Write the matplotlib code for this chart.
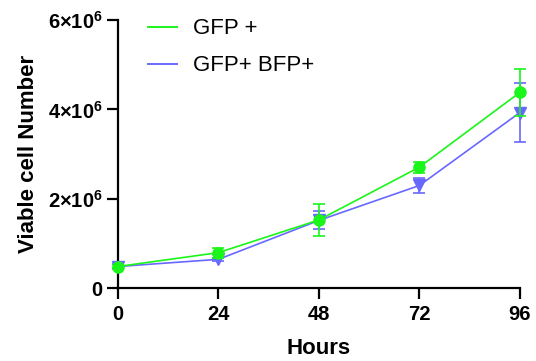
import matplotlib
matplotlib.use("Agg")
import matplotlib.pyplot as plt
from matplotlib.lines import Line2D

plt.rcParams['font.family'] = ['Liberation Sans', 'DejaVu Sans']
plt.rcParams['mathtext.fontset'] = 'custom'
plt.rcParams['mathtext.rm'] = 'Liberation Sans:bold'
plt.rcParams['mathtext.bf'] = 'Liberation Sans:bold'
plt.rcParams['mathtext.it'] = 'Liberation Sans:bold'

hours = [0, 24, 48, 72, 96]
gfp_mean = [0.49e6, 0.80e6, 1.53e6, 2.71e6, 4.38e6]
gfp_err = [0.03e6, 0.11e6, 0.36e6, 0.12e6, 0.53e6]
bfp_mean = [0.49e6, 0.65e6, 1.52e6, 2.30e6, 3.93e6]
bfp_err = [0.05e6, 0.04e6, 0.20e6, 0.17e6, 0.65e6]
series_labels = ["GFP +", "GFP+ BFP+"]
ytick_vals = [0, 2e6, 4e6, 6e6]
ytick_labels = ["0", r"$\mathbf{2{\times}10^{6}}$", r"$\mathbf{4{\times}10^{6}}$", r"$\mathbf{6{\times}10^{6}}$"]

green = '#1AF51A'
blue = '#6868FF'

fig = plt.figure(figsize=(5.36, 3.61), dpi=100)
ax = fig.add_axes([0.220, 0.201, 0.750, 0.744])

ax.errorbar(hours, bfp_mean, yerr=bfp_err, color=blue, marker='v', markersize=8,
            lw=1.2, elinewidth=1.2, capsize=4, capthick=1.2, clip_on=False, zorder=3)
ax.errorbar(hours, gfp_mean, yerr=gfp_err, color=green, marker='o', markersize=8,
            lw=1.2, elinewidth=1.2, capsize=4, capthick=1.2, clip_on=False, zorder=4)

ax.set_xlim(0, 96)
ax.set_ylim(0, 6e6)
ax.set_xticks(hours)
ax.set_xticklabels([str(h) for h in hours], fontweight='bold', fontsize=14.5)
ax.set_yticks(ytick_vals)
ax.set_yticklabels(ytick_labels, fontweight='bold', fontsize=14.5)

for s in ['top', 'right']:
    ax.spines[s].set_visible(False)
for s in ['left', 'bottom']:
    ax.spines[s].set_linewidth(1.6)
ax.tick_params(axis='both', direction='out', length=8, width=1.6, pad=4)
ax.tick_params(axis='y', pad=3)

ax.set_xlabel("Hours", fontweight='bold', fontsize=16, labelpad=10)
ax.set_ylabel("Viable cell Number", fontweight='bold', fontsize=16, labelpad=6)

handles = [Line2D([], [], color=green, lw=1.4), Line2D([], [], color=blue, lw=1.4)]
ax.legend(handles, series_labels, loc='upper left', bbox_to_anchor=(0.025, 1.08),
          frameon=False, fontsize=16, handlelength=1.3, handletextpad=0.72, labelspacing=0.72)

fig.savefig("out.png", dpi=100)
